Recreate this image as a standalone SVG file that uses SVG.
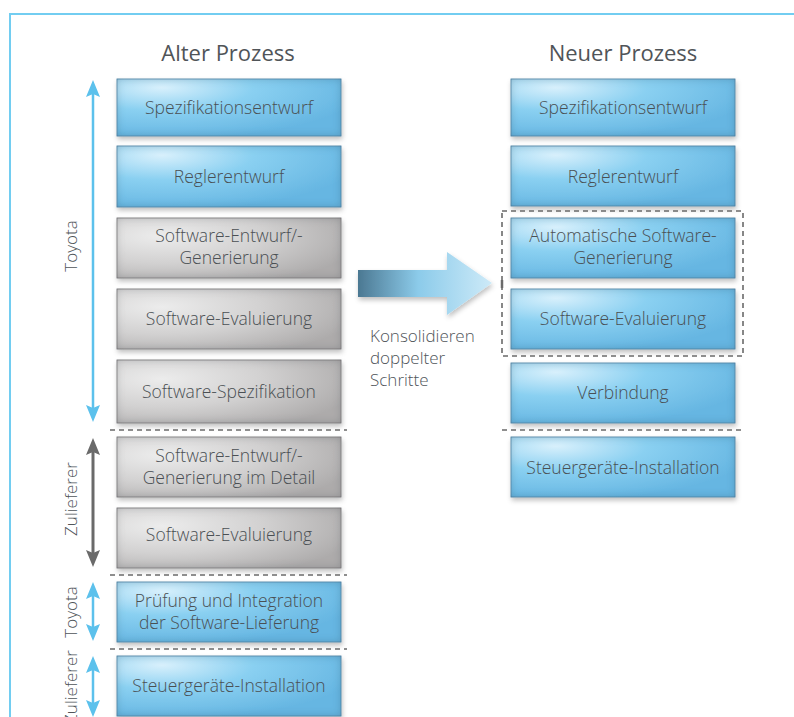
<svg xmlns="http://www.w3.org/2000/svg" width="794" height="717" viewBox="0 0 794 717">
  <defs>
    <radialGradient id="gBlue" cx="0.2" cy="0.15" r="0.9" fx="0.2" fy="0.15">
      <stop offset="0" stop-color="#d8f0fc"/>
      <stop offset="0.45" stop-color="#8ad0f1"/>
      <stop offset="1" stop-color="#66b6e2"/>
    </radialGradient>
    <radialGradient id="gGray" cx="0.2" cy="0.3" r="0.9" fx="0.2" fy="0.3">
      <stop offset="0" stop-color="#ececec"/>
      <stop offset="0.5" stop-color="#d2d1d1"/>
      <stop offset="1" stop-color="#adabab"/>
    </radialGradient>
    <linearGradient id="gArrow" x1="0" y1="0" x2="1" y2="0">
      <stop offset="0" stop-color="#4b7892"/>
      <stop offset="0.45" stop-color="#8ccbea"/>
      <stop offset="1" stop-color="#cdeaf8"/>
    </linearGradient>
    <!-- darkened rim inside the box plus a soft drop shadow -->
    <filter id="box" x="-10%" y="-15%" width="125%" height="140%">
      <feGaussianBlur in="SourceAlpha" stdDeviation="4" result="blur"/>
      <feComposite in="SourceAlpha" in2="blur" operator="out" result="rim"/>
      <feFlood flood-color="#1c3448" flood-opacity="0.4"/>
      <feComposite in2="rim" operator="in" result="rimc"/>
      <feOffset in="SourceAlpha" dx="1" dy="3" result="off"/>
      <feGaussianBlur in="off" stdDeviation="2.5" result="sb"/>
      <feFlood flood-color="#000" flood-opacity="0.25"/>
      <feComposite in2="sb" operator="in" result="shadow"/>
      <feMerge>
        <feMergeNode in="shadow"/>
        <feMergeNode in="SourceGraphic"/>
        <feMergeNode in="rimc"/>
      </feMerge>
    </filter>
    <filter id="arrowShadow" x="-10%" y="-20%" width="125%" height="150%">
      <feOffset in="SourceAlpha" dx="1" dy="3" result="off"/>
      <feGaussianBlur in="off" stdDeviation="2.5" result="sb"/>
      <feFlood flood-color="#000" flood-opacity="0.25"/>
      <feComposite in2="sb" operator="in" result="shadow"/>
      <feMerge>
        <feMergeNode in="shadow"/>
        <feMergeNode in="SourceGraphic"/>
      </feMerge>
    </filter>
    <style>
      .blue { fill: url(#gBlue); stroke: #5a8fb2; stroke-width: 0.8; filter: url(#box); }
      .gray { fill: url(#gGray); stroke: #858383; stroke-width: 0.8; filter: url(#box); }
      .lbl { font-family: "Open Sans", "Liberation Sans", sans-serif; font-weight: 300; font-size: 17.5px; fill: #4a4f53; text-anchor: middle; }
      .side { font-family: "Open Sans", "Liberation Sans", sans-serif; font-weight: 300; font-size: 17px; fill: #50555a; text-anchor: middle; }
      .title { font-family: "Open Sans", "Liberation Sans", sans-serif; font-weight: 400; font-size: 22px; fill: #505458; text-anchor: middle; }
      .note { font-family: "Open Sans", "Liberation Sans", sans-serif; font-weight: 300; font-size: 17px; fill: #50555a; }
      .dash { fill: none; stroke: #6a6a6a; stroke-width: 1.6; stroke-dasharray: 5 4; }
      .bl { stroke: #5cc1ec; stroke-width: 2.5; fill: none; }
      .blh { fill: #5cc1ec; }
      .gl { stroke: #6a6a6a; stroke-width: 3; fill: none; }
      .glh { fill: #6a6a6a; }
    </style>
  </defs>

  <rect width="794" height="717" fill="#ffffff"/>

  <!-- outer frame -->
  <rect x="10" y="14" width="800" height="720" fill="none" stroke="#72cdf1" stroke-width="2"/>

  <!-- column titles -->
  <text class="title" x="228" y="61">Alter Prozess</text>
  <text class="title" x="623" y="61">Neuer Prozess</text>

  <!-- old process -->
  <g id="old-spec"><rect class="blue" x="117" y="79" width="224" height="57"/><text class="lbl" x="229" y="114">Spezifikationsentwurf</text></g>
  <g id="old-regler"><rect class="blue" x="117" y="146" width="224" height="61"/><text class="lbl" x="229" y="183">Reglerentwurf</text></g>
  <g id="old-swgen"><rect class="gray" x="117" y="218" width="224" height="60"/><text class="lbl" x="229" y="242">Software-Entwurf/-</text><text class="lbl" x="229" y="264">Generierung</text></g>
  <g id="old-sweval"><rect class="gray" x="117" y="289" width="224" height="60"/><text class="lbl" x="229" y="325">Software-Evaluierung</text></g>
  <g id="old-swspec"><rect class="gray" x="117" y="360" width="224" height="63"/><text class="lbl" x="229" y="398">Software-Spezifikation</text></g>
  <g id="old-swdetail"><rect class="gray" x="117" y="437" width="224" height="60"/><text class="lbl" x="229" y="462">Software-Entwurf/-</text><text class="lbl" x="229" y="484">Generierung im Detail</text></g>
  <g id="old-sweval2"><rect class="gray" x="117" y="508" width="224" height="60"/><text class="lbl" x="229" y="541">Software-Evaluierung</text></g>
  <g id="old-pruefung"><rect class="blue" x="117" y="582" width="224" height="60"/><text class="lbl" x="229" y="607">Prüfung und Integration</text><text class="lbl" x="229" y="629">der Software-Lieferung</text></g>
  <g id="old-install"><rect class="blue" x="117" y="656" width="224" height="60"/><text class="lbl" x="229" y="692">Steuergeräte-Installation</text></g>

  <!-- new process -->
  <g id="new-spec"><rect class="blue" x="511" y="79" width="224" height="57"/><text class="lbl" x="623" y="114">Spezifikationsentwurf</text></g>
  <g id="new-regler"><rect class="blue" x="511" y="146" width="224" height="60"/><text class="lbl" x="623" y="183">Reglerentwurf</text></g>
  <g id="new-autogen"><rect class="blue" x="511" y="218" width="224" height="60"/><text class="lbl" x="623" y="242">Automatische Software-</text><text class="lbl" x="623" y="264">Generierung</text></g>
  <g id="new-sweval"><rect class="blue" x="511" y="289" width="224" height="60"/><text class="lbl" x="623" y="325">Software-Evaluierung</text></g>
  <g id="new-verbindung"><rect class="blue" x="511" y="363" width="224" height="60"/><text class="lbl" x="623" y="399">Verbindung</text></g>
  <g id="new-install"><rect class="blue" x="511" y="437" width="224" height="60"/><text class="lbl" x="623" y="474">Steuergeräte-Installation</text></g>

  <!-- consolidation group and separators -->
  <g id="separators">
    <rect class="dash" x="502" y="211" width="241" height="145"/>
    <line x1="502" y1="280" x2="502" y2="288" stroke="#6a6a6a" stroke-width="2.5"/>
    <line class="dash" x1="110" y1="430" x2="347" y2="430"/>
    <line class="dash" x1="110" y1="575" x2="347" y2="575"/>
    <line class="dash" x1="110" y1="649" x2="347" y2="649"/>
    <line class="dash" x1="502" y1="430" x2="743" y2="430"/>
  </g>

  <!-- transition arrow -->
  <g id="consolidate">
    <polygon points="358,270 447,270 447,252 492,283 447,315 447,297 358,297" fill="url(#gArrow)" filter="url(#arrowShadow)"/>
    <text class="note" x="370" y="342">Konsolidieren</text>
    <text class="note" x="370" y="364">doppelter</text>
    <text class="note" x="370" y="386">Schritte</text>
  </g>

  <!-- responsibility ranges -->
  <g id="connectors">
    <line class="bl" x1="93" y1="92" x2="93" y2="410"/>
    <polygon class="blh" points="93,80 100,97 93,94 86,97"/>
    <polygon class="blh" points="93,422 100,405 93,408 86,405"/>

    <line class="gl" x1="93" y1="450" x2="93" y2="555"/>
    <polygon class="glh" points="93,438 100,455 93,452 86,455"/>
    <polygon class="glh" points="93,567 100,550 93,553 86,550"/>

    <line class="bl" x1="93" y1="594" x2="93" y2="629"/>
    <polygon class="blh" points="93,582 100,599 93,596 86,599"/>
    <polygon class="blh" points="93,641 100,624 93,627 86,624"/>

    <line class="bl" x1="93" y1="668" x2="93" y2="705"/>
    <polygon class="blh" points="93,656 100,673 93,670 86,673"/>
    <polygon class="blh" points="93,717 100,700 93,703 86,700"/>
  </g>

  <g id="side-labels">
    <text class="side" transform="translate(77 246) rotate(-90)">Toyota</text>
    <text class="side" transform="translate(77 499) rotate(-90)">Zulieferer</text>
    <text class="side" transform="translate(77 612) rotate(-90)">Toyota</text>
    <text class="side" transform="translate(77 687) rotate(-90)">Zulieferer</text>
  </g>
</svg>
